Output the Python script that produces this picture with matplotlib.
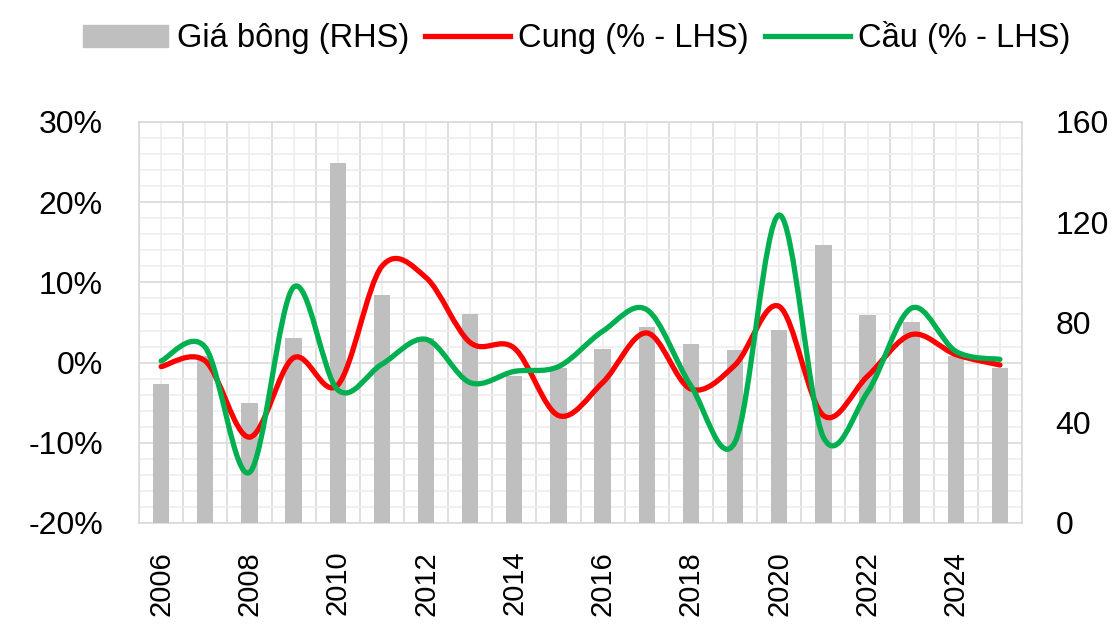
import numpy as np
import matplotlib
matplotlib.use("Agg")
import matplotlib.pyplot as plt
from matplotlib.path import Path
from matplotlib.patches import PathPatch, Patch
from matplotlib.lines import Line2D

plt.rcParams['font.family'] = ['Liberation Sans', 'DejaVu Sans']

# %%
# data
years = list(range(2006, 2026))
gia_bong = [55.5, 66.5, 48, 74, 143.5, 91, 74, 83.5, 58.5, 62,
            69.5, 78, 71.5, 69, 77, 111, 83, 80, 66.5, 62]
cung = [-0.5, 0.2, -9.3, 0.6, -2.8, 12.0, 10.6, 2.5, 1.8, -6.6,
        -2.5, 3.7, -3.3, -0.3, 7.0, -6.6, -1.7, 3.5, 1.0, -0.3]
cau = [0.2, 1.9, -13.7, 9.4, -3.4, -0.2, 2.9, -2.5, -1.1, -0.5,
       3.9, 6.6, -2.9, -9.9, 18.4, -9.3, -3.7, 6.8, 1.4, 0.4]
year_labels = [str(y) if y % 2 == 0 else "" for y in years]

RED = "#FF0000"
GREEN = "#00B050"
BAR = "#BFBFBF"


# %%
# excel-style smooth line: bezier segments through each point
def smooth_path(xs, ys, k=1 / 6):
    pts = np.column_stack([xs, ys]).astype(float)
    n = len(pts)
    verts = [pts[0]]
    codes = [Path.MOVETO]
    for i in range(n - 1):
        p0 = pts[max(i - 1, 0)]
        p1 = pts[i]
        p2 = pts[i + 1]
        p3 = pts[min(i + 2, n - 1)]
        c1 = p1 + (p2 - p0) * k
        c2 = p2 - (p3 - p1) * k
        verts += [c1, c2, p2]
        codes += [Path.CURVE4] * 3
    return Path(verts, codes)


x = np.arange(len(years))

fig = plt.figure(figsize=(11.16, 6.33), dpi=100)
pos = [0.1246, 0.1738, 0.7912, 0.6335]

# bottom axes: grid + left scale
ax = fig.add_axes(pos)
ax.set_xlim(-0.5, len(years) - 0.5)
ax.set_ylim(-20, 30)
ax.set_yticks(np.arange(-20, 31, 10))
ax.set_yticks(np.arange(-20, 31, 2), minor=True)
ax.set_yticklabels([f"{v}%" for v in range(-20, 31, 10)])
ax.set_xticks(np.arange(-0.5, len(years), 1))
ax.set_xticks(x, minor=True)
ax.set_xticklabels([])
ax.set_xticklabels(year_labels, minor=True, rotation=90, va="top", ha="center")
ax.grid(True, which="major", color="#D9D9D9", lw=1.2)
ax.grid(True, which="minor", color="#EEEEEE", lw=1.2)
ax.tick_params(axis="both", which="both", length=0)
ax.tick_params(axis="y", labelsize=23, pad=26)
ax.tick_params(axis="x", which="minor", labelsize=21, pad=20)
for s in ax.spines.values():
    s.set_color("#D9D9D9")
    s.set_linewidth(1.2)

# middle axes: bars on right scale
ax2 = ax.twinx()
ax2.bar(x, gia_bong, width=0.37, color=BAR, zorder=2)
ax2.set_ylim(0, 160)
ax2.set_yticks(np.arange(0, 161, 40))
ax2.tick_params(axis="y", length=0, labelsize=23, pad=24)
for s in ax2.spines.values():
    s.set_visible(False)

# top axes: smooth lines, same scale as ax
ax3 = fig.add_axes(pos, sharex=ax, sharey=ax)
ax3.patch.set_visible(False)
ax3.axis("off")
ax3.add_patch(PathPatch(smooth_path(x, cung), fill=False, ec=RED, lw=3.8,
                        capstyle="round", joinstyle="round"))
ax3.add_patch(PathPatch(smooth_path(x, cau), fill=False, ec=GREEN, lw=3.8,
                        capstyle="round", joinstyle="round"))

handles = [Patch(color=BAR),
           Line2D([], [], color=RED, lw=3.8),
           Line2D([], [], color=GREEN, lw=3.8)]
fig.legend(handles, ["Giá bông (RHS)", "Cung (% - LHS)", "Cầu (% - LHS)"],
           loc="center", bbox_to_anchor=(0.517, 0.94), ncol=3, frameon=False,
           fontsize=23.5, handlelength=2.6, handletextpad=0.25, columnspacing=0.5)

fig.savefig("out.png", dpi=100)
